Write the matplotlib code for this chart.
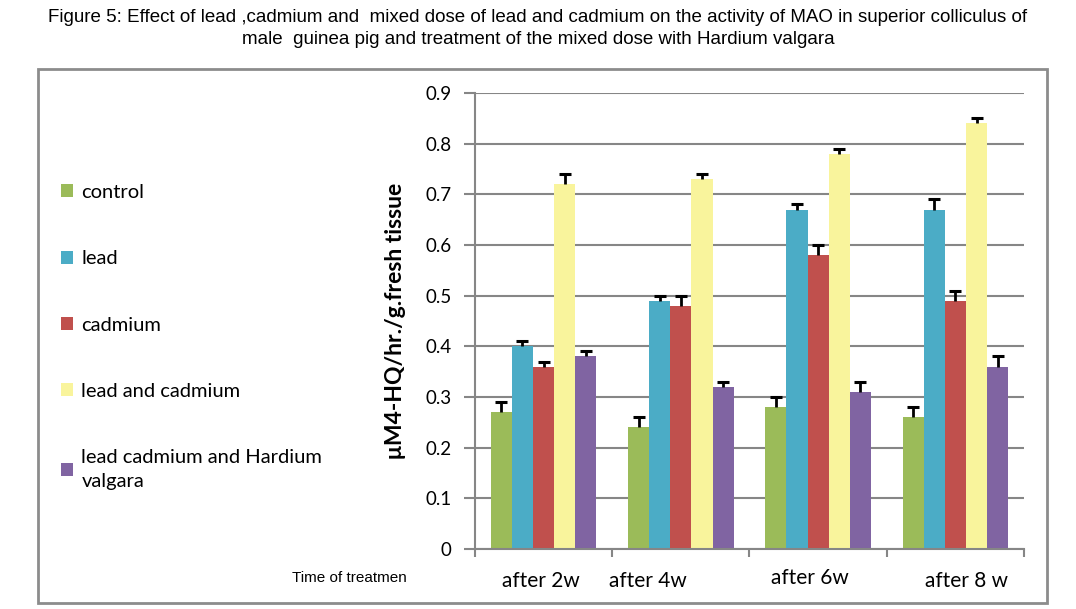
import matplotlib.pyplot as plt
import numpy as np
from matplotlib.patches import Rectangle

periods = ["after 2w", "after 4w", "after 6w", "after 8 w"]
groups = ["control", "lead", "cadmium", "lead and cadmium",
          "lead cadmium and Hardium\nvalgara"]
control = [0.27, 0.24, 0.28, 0.26]
lead = [0.40, 0.49, 0.67, 0.67]
cadmium = [0.36, 0.48, 0.58, 0.49]
lead_cadmium = [0.72, 0.73, 0.78, 0.84]
lead_cadmium_hv = [0.38, 0.32, 0.31, 0.36]
err_control = [0.02, 0.02, 0.02, 0.02]
err_lead = [0.01, 0.01, 0.01, 0.02]
err_cadmium = [0.01, 0.02, 0.02, 0.02]
err_lead_cadmium = [0.02, 0.01, 0.01, 0.01]
err_lead_cadmium_hv = [0.01, 0.01, 0.02, 0.02]

series = [control, lead, cadmium, lead_cadmium, lead_cadmium_hv]
errors = [err_control, err_lead, err_cadmium, err_lead_cadmium, err_lead_cadmium_hv]
colors = ["#9BBB59", "#4BACC6", "#C0504D", "#F9F49C", "#8064A2"]

body_font = ["Lato", "DejaVu Sans"]
narrow_font = ["Liberation Sans Narrow", "Liberation Sans", "DejaVu Sans"]

fig = plt.figure(figsize=(10.76, 6.09), dpi=100)
ax = fig.add_axes([0.4414, 0.0985, 0.5103, 0.7488])

x = np.arange(len(periods))
w = 0.154
handles = []
for i, (vals, err, c) in enumerate(zip(series, errors, colors)):
    pos = x + (i - 2) * w
    b = ax.bar(pos, vals, w, color=c, zorder=2)
    eb = ax.errorbar(pos, vals, yerr=[np.zeros(len(err)), err], fmt="none",
                     ecolor="black", elinewidth=2, capsize=4, capthick=2.2, zorder=3)
    # hide the cap sitting on top of the bar (zero lower error)
    for cap in eb[1]:
        if np.allclose(cap.get_ydata(), vals):
            cap.set_visible(False)
    handles.append(b)

ax.set_xlim(-0.5, 3.5)
ax.set_ylim(0, 0.9)
ax.set_yticks(np.arange(0, 0.91, 0.1))
ax.set_yticklabels(["0"] + [f"{v:.1f}" for v in np.arange(0.1, 0.91, 0.1)],
                   fontsize=13.5, family=body_font)
ax.yaxis.grid(True, color="#868686", lw=1.5, zorder=0)
ax.set_axisbelow(True)
ax.set_xticks([])
ax.set_xticks(np.arange(-0.5, 3.6, 1), minor=True)
ax.tick_params(axis="x", which="minor", length=6, color="#868686", width=1.5)
ax.tick_params(axis="y", length=8, color="#868686", width=1.5, pad=9)
for s in ["top", "right"]:
    ax.spines[s].set_visible(False)
for s in ["left", "bottom"]:
    ax.spines[s].set_color("#868686")
    ax.spines[s].set_linewidth(1.5)

label_x = [-0.02, 0.76, 1.94, 3.08]
label_y = [-0.063, -0.063, -0.057, -0.063]
for lx, ly, t in zip(label_x, label_y, periods):
    ax.text(lx, ly, t, ha="center", va="center", fontsize=15, family=body_font)

ax.set_ylabel("\u03bcM4-HQ/hr./g.fresh tissue", fontsize=16.5, fontweight="bold",
              family=body_font, labelpad=14)

fig.text(0.325, 0.051, "Time of treatmen", ha="center", va="center",
         fontsize=11, family=narrow_font)

leg = fig.legend(handles, groups, loc="upper left", bbox_to_anchor=(0.057, 0.698),
                 frameon=False, handlelength=0.6, handleheight=0.6,
                 handletextpad=0.4, labelspacing=2.45, borderpad=0, borderaxespad=0,
                 prop={"family": body_font, "size": 14.5})
for t in leg.get_texts():
    t.set_linespacing(1.45)

fig.text(0.5, 0.972,
         "Figure 5: Effect of lead ,cadmium and  mixed dose of lead and cadmium on the activity of MAO in superior colliculus of",
         ha="center", va="center", fontsize=13.5, family=narrow_font)
fig.text(0.5, 0.935, "male  guinea pig and treatment of the mixed dose with Hardium valgara",
         ha="center", va="center", fontsize=13.5, family=narrow_font)

fig.patches.append(Rectangle((0.0353, 0.0099), 0.9377, 0.8768, transform=fig.transFigure,
                             fill=False, edgecolor="#8c8c8c", lw=2))

fig.savefig("out.png", dpi=100)
